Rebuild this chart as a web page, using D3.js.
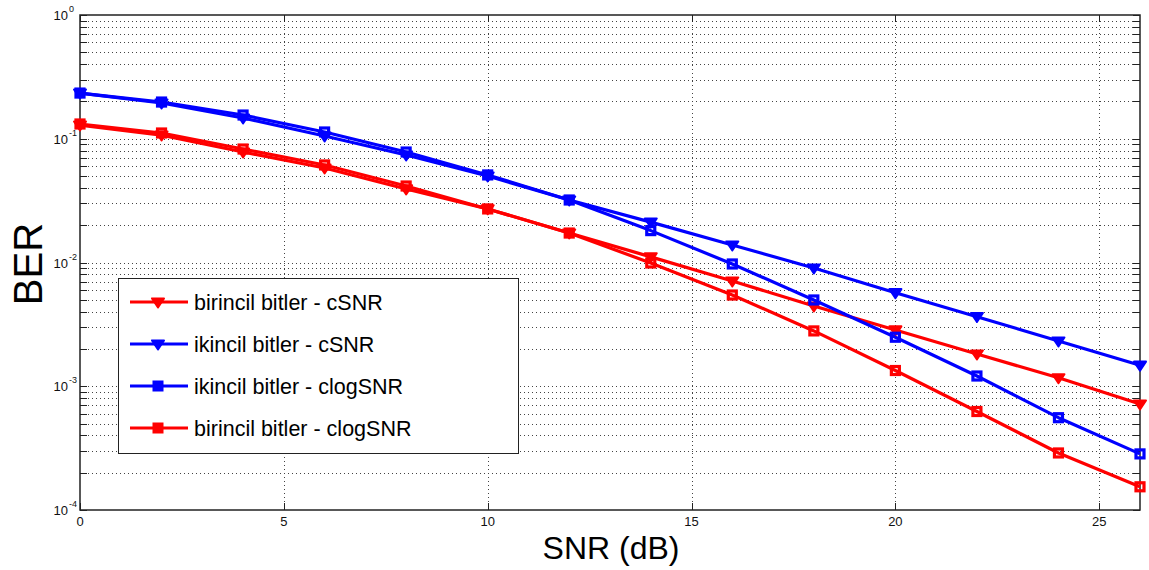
<!DOCTYPE html>
<html>
<head>
<meta charset="utf-8">
<script src="https://cdn.jsdelivr.net/npm/d3@7"></script>
<style>
  html, body { margin: 0; padding: 0; background: #fff; }
  svg { display: block; font-family: "Liberation Sans", Arial, sans-serif; }
</style>
</head>
<body>
<svg id="chart" width="1149" height="570"></svg>
<script>
// SNR points (dB)
const snr = [0, 2, 4, 6, 8, 10, 12, 14, 16, 18, 20, 22, 24, 26];

// Bit error rates per scheme
const birincilCSNR   = [0.129, 0.107, 0.0781, 0.0580, 0.0393, 0.0271, 0.0173, 0.0111, 0.00709, 0.00445, 0.00285, 0.00182, 0.00117, 0.000719];
const ikincilCSNR    = [0.234, 0.1945, 0.147, 0.1052, 0.0739, 0.0500, 0.0320, 0.0212, 0.01385, 0.00903, 0.00570, 0.00365, 0.00232, 0.00148];
const ikincilClog    = [0.234, 0.198, 0.1555, 0.1134, 0.0781, 0.0510, 0.0320, 0.0181, 0.00973, 0.00498, 0.00249, 0.00121, 0.000557, 0.000284];
const birincilClog   = [0.1316, 0.1113, 0.0826, 0.0614, 0.0415, 0.0271, 0.0173, 0.00991, 0.00546, 0.00280, 0.00134, 0.000625, 0.000289, 0.000154];

const seriesNames = ["birincil bitler - cSNR", "ikincil bitler - cSNR", "ikincil bitler - clogSNR", "birincil bitler - clogSNR"];
const seriesValues = [birincilCSNR, ikincilCSNR, ikincilClog, birincilClog];
const seriesColors = ["#ff0000", "#0000ff", "#0000ff", "#ff0000"];
const seriesMarkers = ["tri", "tri", "square", "square"];

const xTicks = [0, 5, 10, 15, 20, 25];
const yDecades = [-4, -3, -2, -1, 0];

const svg = d3.select("#chart");
const margin = { left: 80, right: 9, top: 15, bottom: 60 };
const W = 1149, H = 570;

const x = d3.scaleLinear().domain([0, 26]).range([margin.left, W - margin.right]);
const y = d3.scaleLog().domain([1e-4, 1]).range([H - margin.bottom, margin.top]);

const x0 = x.range()[0], x1 = x.range()[1];
const y0 = y.range()[0], y1 = y.range()[1];

// minor values: 2..9 per decade
const minorVals = [];
for (let d = -4; d < 0; d++) for (let k = 2; k <= 9; k++) minorVals.push(k * Math.pow(10, d));
const majorVals = yDecades.map(d => Math.pow(10, d));

const grid = svg.append("g").attr("stroke", "#444").attr("stroke-width", 1)
  .attr("stroke-dasharray", "1,3").attr("fill", "none");

// horizontal grid (major + minor)
grid.selectAll("line.h").data(minorVals.concat(majorVals.slice(1, 4))).enter().append("line")
  .attr("x1", x0).attr("x2", x1)
  .attr("y1", d => Math.round(y(d)) + 0.5).attr("y2", d => Math.round(y(d)) + 0.5);
// vertical grid
grid.selectAll("line.v").data(xTicks.slice(1)).enter().append("line")
  .attr("x1", d => Math.round(x(d)) + 0.5).attr("x2", d => Math.round(x(d)) + 0.5)
  .attr("y1", y0).attr("y2", y1);

// tick marks inside the box
const ticks = svg.append("g").attr("stroke", "#222").attr("stroke-width", 1);
const tl = 7;
const allY = majorVals.concat(minorVals);
ticks.selectAll("line.yl").data(allY).enter().append("line")
  .attr("x1", x0).attr("x2", x0 + tl)
  .attr("y1", d => Math.round(y(d)) + 0.5).attr("y2", d => Math.round(y(d)) + 0.5);
ticks.selectAll("line.yr").data(allY).enter().append("line")
  .attr("x1", x1).attr("x2", x1 - tl)
  .attr("y1", d => Math.round(y(d)) + 0.5).attr("y2", d => Math.round(y(d)) + 0.5);
ticks.selectAll("line.xb").data(xTicks).enter().append("line")
  .attr("x1", d => Math.round(x(d)) + 0.5).attr("x2", d => Math.round(x(d)) + 0.5)
  .attr("y1", y0).attr("y2", y0 - tl);
ticks.selectAll("line.xt").data(xTicks).enter().append("line")
  .attr("x1", d => Math.round(x(d)) + 0.5).attr("x2", d => Math.round(x(d)) + 0.5)
  .attr("y1", y1).attr("y2", y1 + tl);

// axis box
svg.append("rect").attr("x", x0).attr("y", y1).attr("width", x1 - x0).attr("height", y0 - y1)
  .attr("fill", "none").attr("stroke", "#222").attr("stroke-width", 1.5);

// x tick labels
svg.append("g").selectAll("text").data(xTicks).enter().append("text")
  .attr("x", d => x(d)).attr("y", y0 + 16).attr("text-anchor", "middle")
  .attr("font-size", 13).attr("fill", "#111").text(d => d);

// y tick labels 10^n
const yl = svg.append("g").attr("fill", "#111");
yDecades.forEach(d => {
  yl.append("text").attr("x", x0 - 12).attr("y", y(Math.pow(10, d)) + 5)
    .attr("text-anchor", "end").attr("font-size", 13).text("10");
  yl.append("text").attr("x", x0 - 11).attr("y", y(Math.pow(10, d)) - 3)
    .attr("font-size", 9).text(d);
});

// axis titles
svg.append("text").attr("x", 611).attr("y", 559).attr("text-anchor", "middle")
  .attr("font-size", 32).attr("fill", "#000").text("SNR (dB)");
svg.append("text").attr("transform", "translate(42,264) rotate(-90)").attr("text-anchor", "middle")
  .attr("font-size", 40).attr("fill", "#000").text("BER");

// markers
function drawMarker(g, type, cx, cy, color) {
  if (type === "tri") {
    const s = 6;
    g.append("path")
      .attr("d", `M${cx - s},${cy - s * 0.6} L${cx + s},${cy - s * 0.6} L${cx},${cy + s * 0.9} Z`)
      .attr("fill", color).attr("stroke", color).attr("stroke-width", 2).attr("stroke-linejoin", "round");
  } else {
    const s = 4;
    g.append("rect").attr("x", cx - s).attr("y", cy - s).attr("width", 2 * s).attr("height", 2 * s)
      .attr("fill", "none").attr("stroke", color).attr("stroke-width", 3.2);
  }
}

const line = d3.line().x(d => x(d[0])).y(d => y(d[1]));
const plot = svg.append("g");
seriesValues.forEach((vals, i) => {
  const pts = snr.map((s, j) => [s, vals[j]]);
  const g = plot.append("g");
  g.append("path").datum(pts).attr("d", line).attr("fill", "none")
    .attr("stroke", seriesColors[i]).attr("stroke-width", 3.2).attr("stroke-linejoin", "round");
  pts.forEach(p => drawMarker(g, seriesMarkers[i], x(p[0]), y(p[1]), seriesColors[i]));
});

// legend
const lg = svg.append("g");
lg.append("rect").attr("x", 118.5).attr("y", 278.5).attr("width", 400).attr("height", 175)
  .attr("fill", "#fff").attr("stroke", "#222").attr("stroke-width", 1);
const legY = [302, 344, 386, 428];
seriesNames.forEach((name, i) => {
  lg.append("line").attr("x1", 130).attr("x2", 188).attr("y1", legY[i]).attr("y2", legY[i])
    .attr("stroke", seriesColors[i]).attr("stroke-width", 3.2);
  if (seriesMarkers[i] === "tri") drawMarker(lg, "tri", 158, legY[i], seriesColors[i]);
  else {
    lg.append("rect").attr("x", 153).attr("y", legY[i] - 5).attr("width", 10).attr("height", 10)
      .attr("fill", seriesColors[i]).attr("stroke", seriesColors[i]).attr("stroke-width", 1);
  }
  lg.append("text").attr("x", 194).attr("y", legY[i] + 7.5).attr("font-size", 21.5)
    .attr("fill", "#000").text(name);
});
</script>
</body>
</html>
